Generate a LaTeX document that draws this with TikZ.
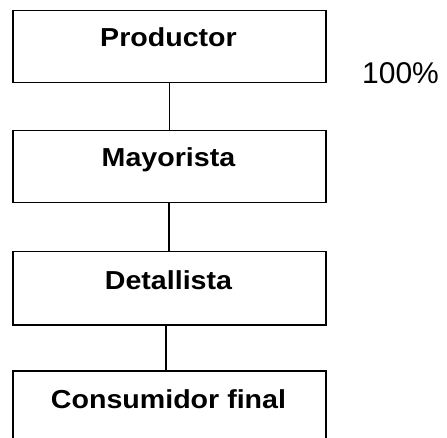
\documentclass[tikz,border=0pt]{standalone}
\usepackage{graphicx}
\usepackage{fontspec}
\setmainfont{Liberation Sans}[BoldFont={Liberation Sans Bold}]
\newcommand{\wide}[1]{\scalebox{1.1}[1]{#1}}
\begin{document}
\begin{tikzpicture}[x=1pt,y=-1pt,
  box/.style={draw, line width=1.5pt, minimum width=313pt, minimum height=72pt, inner sep=0pt, anchor=north west},
  lab/.style={font=\fontsize{26}{30}\selectfont\bfseries, inner sep=0pt, anchor=base},
  pct/.style={font=\fontsize{30}{34}\selectfont, inner sep=0pt, anchor=base west},
  conn/.style={line width=1.5pt}]
\clip (0,0) rectangle (447,438);
\fill[white] (0,0) rectangle (447,438);
\node[box] (p) at (12,10) {};
\node[box] (m) at (12,130) {};
\node[box, minimum height=73pt] (d) at (12,251) {};
\node[box, minimum height=80pt] (c) at (12,370) {};
\node[lab] (pl) at (168.5,46.7) {\wide{Productor}};
\node[lab] (ml) at (168.5,166.7) {\wide{Mayorista}};
\node[lab] (dl) at (168.5,289.7) {\wide{Detallista}};
\node[lab] (cl) at (168.5,408) {\wide{Consumidor final}};
\node[pct] (pc) at (362,83.3) {100\%};
\draw[conn] (p.south) -- (m.north);
\draw[conn] ([xshift=-0.5pt]m.south) -- ([xshift=-0.5pt]d.north);
\draw[conn] ([xshift=-3.5pt]d.south) -- ([xshift=-3.5pt]c.north);
\end{tikzpicture}
\end{document}
